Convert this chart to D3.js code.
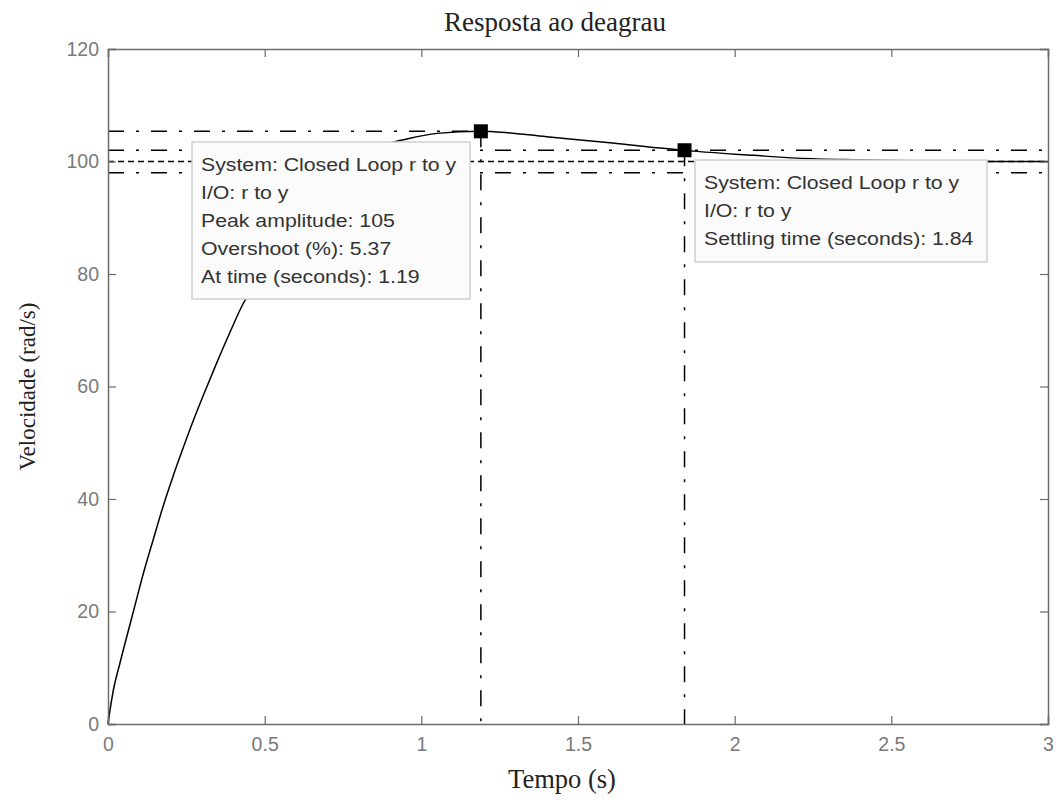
<!DOCTYPE html>
<html>
<head>
<meta charset="utf-8">
<script src="https://cdn.jsdelivr.net/npm/d3@7"></script>
<style>
  body { margin: 0; background: #fff; }
  svg { display: block; }
</style>
</head>
<body>
<div class="chart-container"></div>
<script>
// --- Data ---
const timeS = [0, 0.003, 0.017, 0.038, 0.081, 0.113, 0.145, 0.177, 0.208, 0.24, 0.272, 0.304, 0.347, 0.389, 0.432, 0.5, 0.6, 0.7, 0.8, 0.9, 0.954, 1.05, 1.19, 1.23, 1.4, 1.61, 1.78, 1.84, 1.88, 2.06, 2.2, 2.4, 2.6, 2.8, 3.0];
const velocity = [0, 1.2, 6.0, 10.8, 20.0, 26.8, 32.9, 38.9, 44.1, 49.1, 53.9, 58.4, 64.2, 69.6, 74.8, 80, 87, 93, 98.5, 103.2, 104.0, 105.0, 105.37, 105.3, 104.4, 103.3, 102.3, 102.0, 101.8, 101.1, 100.6, 100.3, 100.1, 100.0, 100.0];

const xTicks = [0, 0.5, 1, 1.5, 2, 2.5, 3];
const yTicks = [0, 20, 40, 60, 80, 100, 120];

// characteristics
const peakTime = 1.19;
const peakValue = 105.37;
const finalValue = 100;
const settleTime = 1.84;
const settleUpper = 102;
const settleLower = 98;

const peakLines = ["System: Closed Loop r to y", "I/O: r to y", "Peak amplitude: 105", "Overshoot (%): 5.37", "At time (seconds): 1.19"];
const settleLines = ["System: Closed Loop r to y", "I/O: r to y", "Settling time (seconds): 1.84"];

// --- Layout ---
const W = 1062, H = 803;
const margin = { top: 49, right: 14, bottom: 79, left: 108 };
const width = W - margin.left - margin.right;
const height = H - margin.top - margin.bottom;

const svg = d3.select(".chart-container").append("svg")
    .attr("width", W).attr("height", H);

const g = svg.append("g")
    .attr("transform", `translate(${margin.left},${margin.top})`);

const x = d3.scaleLinear().domain([0, 3]).range([0, width]);
const y = d3.scaleLinear().domain([0, 120]).range([height, 0]);

const axisColor = "#6b6b6b";
const tickColor = "#7a7a7a";
const DASHDOT = "16,12,3,12";
const DOTTED = "6,4";

// response curve (drawn first, annotation boxes cover it)
const data = timeS.map((t, i) => ({ t: t, v: velocity[i] }));
const line = d3.line().x(d => x(d.t)).y(d => y(d.v)).curve(d3.curveMonotoneX);
g.append("path")
    .datum(data)
    .attr("fill", "none")
    .attr("stroke", "#000")
    .attr("stroke-width", 1.5)
    .attr("d", line);

// annotation boxes (MATLAB data tips)
function dataTip(x0, y0, w, h, lines) {
    const tip = svg.append("g").attr("transform", `translate(${x0},${y0})`);
    tip.append("rect")
        .attr("width", w).attr("height", h)
        .attr("fill", "#fbfbfb")
        .attr("stroke", "#d0d0d0")
        .attr("stroke-width", 1.5);
    tip.append("g")
        .attr("transform", "translate(9,0) scale(1.15,1)")
        .selectAll("text")
        .data(lines)
        .enter()
        .append("text")
        .attr("x", 0)
        .attr("y", (d, i) => 29 + i * 28)
        .attr("font-family", "'Liberation Sans', Arial, sans-serif")
        .attr("font-size", 18.5)
        .attr("fill", "#333")
        .text(d => d);
}
dataTip(192, 142, 278, 157, peakLines);
dataTip(695, 160, 292, 102, settleLines);

// characteristic guide lines
function hLine(x1, x2, v, dash) {
    g.append("line")
        .attr("x1", x(x1)).attr("x2", x(x2))
        .attr("y1", y(v)).attr("y2", y(v))
        .attr("stroke", "#000").attr("stroke-width", 1.5)
        .attr("stroke-dasharray", dash);
}
function vLine(t, v, dash) {
    g.append("line")
        .attr("x1", x(t)).attr("x2", x(t))
        .attr("y1", y(v)).attr("y2", y(0))
        .attr("stroke", "#000").attr("stroke-width", 1.5)
        .attr("stroke-dasharray", dash);
}
hLine(0, peakTime, peakValue, DASHDOT);
hLine(0, 3, settleUpper, DASHDOT);
hLine(0, 3, finalValue, DOTTED);
hLine(0, 3, settleLower, DASHDOT);
vLine(peakTime, peakValue, DASHDOT);
vLine(settleTime, settleUpper, DASHDOT);

// markers
g.selectAll(".marker")
    .data([{ t: peakTime, v: peakValue }, { t: settleTime, v: settleUpper }])
    .enter()
    .append("rect")
    .attr("class", "marker")
    .attr("x", d => x(d.t) - 7)
    .attr("y", d => y(d.v) - 7)
    .attr("width", 14).attr("height", 14)
    .attr("fill", "#000");

// --- AXES (MATLAB style box with inner ticks) ---
const xAxis = g.append("g")
    .attr("transform", `translate(0,${height})`)
    .call(d3.axisBottom(x).tickValues(xTicks).tickSize(-8).tickPadding(13).tickFormat(d3.format("")));
const xTop = g.append("g")
    .call(d3.axisTop(x).tickValues(xTicks).tickSize(-8).tickFormat(""));
const yAxis = g.append("g")
    .call(d3.axisLeft(y).tickValues(yTicks).tickSize(-8).tickPadding(9));
const yRight = g.append("g")
    .attr("transform", `translate(${width},0)`)
    .call(d3.axisRight(y).tickValues(yTicks).tickSize(-8).tickFormat(""));

[xAxis, xTop, yAxis, yRight].forEach(a => {
    a.select(".domain").attr("stroke", axisColor).attr("stroke-width", 1.5);
    a.selectAll(".tick line").attr("stroke", axisColor).attr("stroke-width", 1.2);
    a.selectAll(".tick text")
        .attr("fill", tickColor)
        .attr("font-family", "'Liberation Sans', Arial, sans-serif")
        .attr("font-size", 19.5);
});

// titles
svg.append("text")
    .attr("x", 555)
    .attr("y", 31)
    .attr("text-anchor", "middle")
    .attr("font-family", "'Liberation Serif', 'Times New Roman', serif")
    .attr("font-size", 27)
    .attr("fill", "#222")
    .text("Resposta ao deagrau");

svg.append("text")
    .attr("x", 562)
    .attr("y", 788)
    .attr("text-anchor", "middle")
    .attr("font-family", "'Liberation Serif', 'Times New Roman', serif")
    .attr("font-size", 26.5)
    .attr("fill", "#222")
    .text("Tempo (s)");

svg.append("text")
    .attr("transform", `translate(35,${margin.top + height / 2}) rotate(-90)`)
    .attr("text-anchor", "middle")
    .attr("font-family", "'Liberation Serif', 'Times New Roman', serif")
    .attr("font-size", 23)
    .attr("fill", "#222")
    .text("Velocidade (rad/s)");
</script>
</body>
</html>
